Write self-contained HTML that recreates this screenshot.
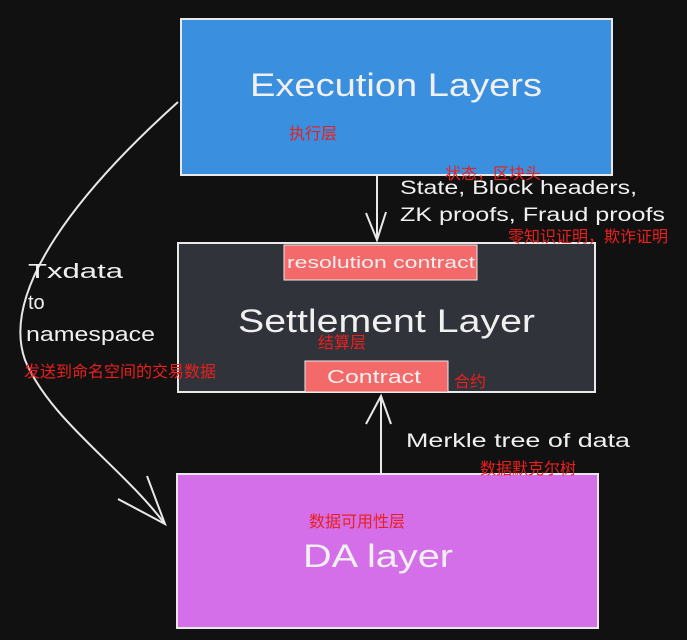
<!DOCTYPE html>
<html><head><meta charset="utf-8"><style>
html,body{margin:0;padding:0;background:#111111;}
svg{display:block}
.w{font-family:"Liberation Sans",sans-serif;fill:#f0f0f0}
.r{font-family:"Liberation Sans","Noto Sans CJK SC",sans-serif;fill:#e8201e;font-size:16px}
</style></head><body>
<svg width="687" height="640" viewBox="0 0 687 640" xmlns="http://www.w3.org/2000/svg">
<rect width="687" height="640" fill="#111111"/>
<rect x="181" y="19" width="431" height="156" fill="#3a8fde" stroke="#e8e8e8" stroke-width="2"/>
<text class="w" x="250" y="96" font-size="32" textLength="292" lengthAdjust="spacingAndGlyphs">Execution Layers</text>
<text class="r" x="289" y="139">执行层</text>
<rect x="178" y="243" width="417" height="149" fill="#30333a" stroke="#e8e8e8" stroke-width="2"/>
<rect x="284" y="245" width="193" height="35" fill="#f46a6a" stroke="#e8e8e8" stroke-width="1"/>
<text class="w" x="287" y="268" font-size="17" textLength="188" lengthAdjust="spacingAndGlyphs">resolution contract</text>
<text class="w" x="238" y="332" font-size="32" textLength="297" lengthAdjust="spacingAndGlyphs">Settlement Layer</text>
<text class="r" x="318" y="348">结算层</text>
<rect x="305" y="361" width="143" height="31" fill="#f46a6a" stroke="#e8e8e8" stroke-width="1"/>
<text class="w" x="327" y="383" font-size="18" textLength="94" lengthAdjust="spacingAndGlyphs">Contract</text>
<text class="r" x="454" y="387">合约</text>
<rect x="177" y="474" width="421" height="154" fill="#d46fe9" stroke="#e8e8e8" stroke-width="2"/>
<text class="r" x="309" y="527">数据可用性层</text>
<text class="w" x="303" y="567" font-size="32" textLength="150" lengthAdjust="spacingAndGlyphs">DA layer</text>
<g stroke="#e8e8e8" stroke-width="2" fill="none">
<line x1="377" y1="175" x2="377" y2="240"/>
<path d="M366 213 L377 240 L386 212"/>
<line x1="381" y1="473" x2="381" y2="398"/>
<path d="M366 424 L381 396 L391 424"/>
<path d="M178 102 C80 190 0 290 25 360 C50 420 120 465 165 524"/>
<path d="M118 499 L165 524 L147 476"/>
</g>
<text class="r" x="445" y="179">状态，区块头</text>
<text class="w" x="400" y="194" font-size="19" textLength="237" lengthAdjust="spacingAndGlyphs">State, Block headers,</text>
<text class="w" x="400" y="221" font-size="19" textLength="265" lengthAdjust="spacingAndGlyphs">ZK proofs, Fraud proofs</text>
<text class="r" x="508" y="242">零知识证明，欺诈证明</text>
<text class="w" x="28" y="278" font-size="20" textLength="95" lengthAdjust="spacingAndGlyphs">Txdata</text>
<text class="w" x="28" y="309" font-size="20">to</text>
<text class="w" x="26" y="341" font-size="20" textLength="129" lengthAdjust="spacingAndGlyphs">namespace</text>
<text class="r" x="24" y="377">发送到命名空间的交易数据</text>
<text class="w" x="406" y="447" font-size="19" textLength="224" lengthAdjust="spacingAndGlyphs">Merkle tree of data</text>
<text class="r" x="480" y="474">数据默克尔树</text>
</svg>
</body></html>
